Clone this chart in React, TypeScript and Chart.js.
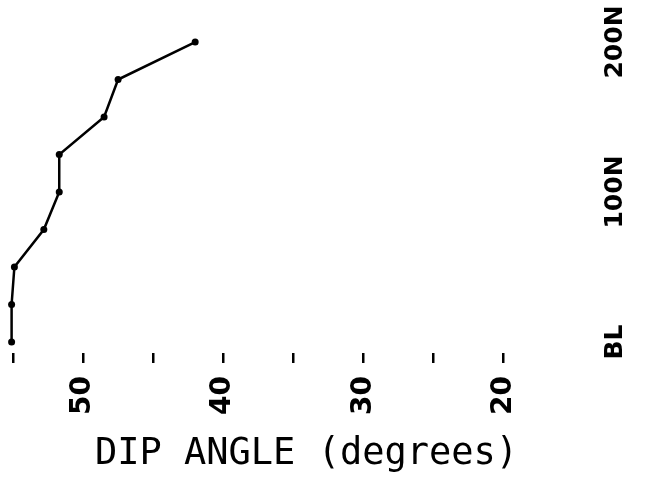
import React, { useEffect, useRef } from "react";
import { Chart, registerables } from "chart.js";

Chart.register(...registerables);

// Stations along the line (metres north of base line)
const stations = [0, 25, 50, 75, 100, 125, 150, 175, 200];
// Dip angle measured at each station (degrees)
const dipAngles = [55.1, 55.1, 54.9, 52.8, 51.7, 51.7, 48.5, 47.5, 42.0];

const xTickValues = [55, 50, 45, 40, 35, 30, 25, 20];
const xTickLabels = ["", "50", "", "40", "", "30", "", "20"];

const yTickValues = [0, 100, 200];
const yTickLabels = ["BL", "100N", "200N"];

const xTitle = "DIP ANGLE (degrees)";

export default function App() {
  const ref = useRef<HTMLCanvasElement | null>(null);

  useEffect(() => {
    if (!ref.current) return;
    const points = stations.map((s, i) => ({ x: dipAngles[i], y: s }));
    const chart = new Chart(ref.current, {
      type: "scatter",
      data: {
        datasets: [
          {
            data: points,
            showLine: true,
            clip: false,
            borderColor: "#000",
            backgroundColor: "#000",
            borderWidth: 2.5,
            pointRadius: 3.5,
            pointHoverRadius: 3.5,
            pointBorderWidth: 0,
          },
        ],
      },
      options: {
        animation: false,
        responsive: false,
        maintainAspectRatio: false,
        layout: { padding: { left: 6, top: 20, right: 0, bottom: 0 } },
        plugins: {
          legend: { display: false },
          tooltip: { enabled: false },
        },
        scales: {
          x: {
            type: "linear",
            reverse: true,
            min: 13.11,
            max: 55,
            afterBuildTicks: (scale: any) => {
              scale.ticks = xTickValues.map((v) => ({ value: v }));
            },
            afterFit: (scale: any) => {
              scale.height = 134;
            },
            grid: {
              display: true,
              drawOnChartArea: false,
              drawTicks: true,
              tickLength: 10,
              color: "#000",
              lineWidth: 2.5,
            },
            border: { display: false },
            ticks: {
              autoSkip: false,
              minRotation: 90,
              maxRotation: 90,
              padding: 13,
              color: "#000",
              font: { family: "DejaVu Sans", size: 28, weight: "bold" },
              callback: (value: any) => {
                const i = xTickValues.indexOf(Number(value));
                return i >= 0 ? xTickLabels[i] : "";
              },
            },
            title: {
              display: true,
              text: xTitle,
              color: "#000",
              font: { family: "DejaVu Sans Mono", size: 37, weight: "normal" },
              padding: { top: 0, bottom: 10 },
            },
          },
          y: {
            type: "linear",
            position: "right",
            min: -7.33,
            max: 214.67,
            afterBuildTicks: (scale: any) => {
              scale.ticks = yTickValues.map((v) => ({ value: v }));
            },
            afterFit: (scale: any) => {
              scale.width = 50;
            },
            grid: { display: false, drawTicks: false },
            border: { display: false },
            ticks: {
              autoSkip: false,
              minRotation: 90,
              maxRotation: 90,
              crossAlign: "center",
              padding: -21,
              color: "#000",
              font: { family: "DejaVu Sans", size: 25, weight: "bold" },
              callback: (value: any) => {
                const i = yTickValues.indexOf(Number(value));
                return i >= 0 ? yTickLabels[i] : "";
              },
            },
          },
        },
      },
    });
    return () => chart.destroy();
  }, []);

  return (
    <div style={{ position: "fixed", left: 0, top: 0, width: 650, height: 487, background: "#fff" }}>
      <canvas ref={ref} width={650} height={487} style={{ width: 650, height: 487, display: "block" }} />
    </div>
  );
}
